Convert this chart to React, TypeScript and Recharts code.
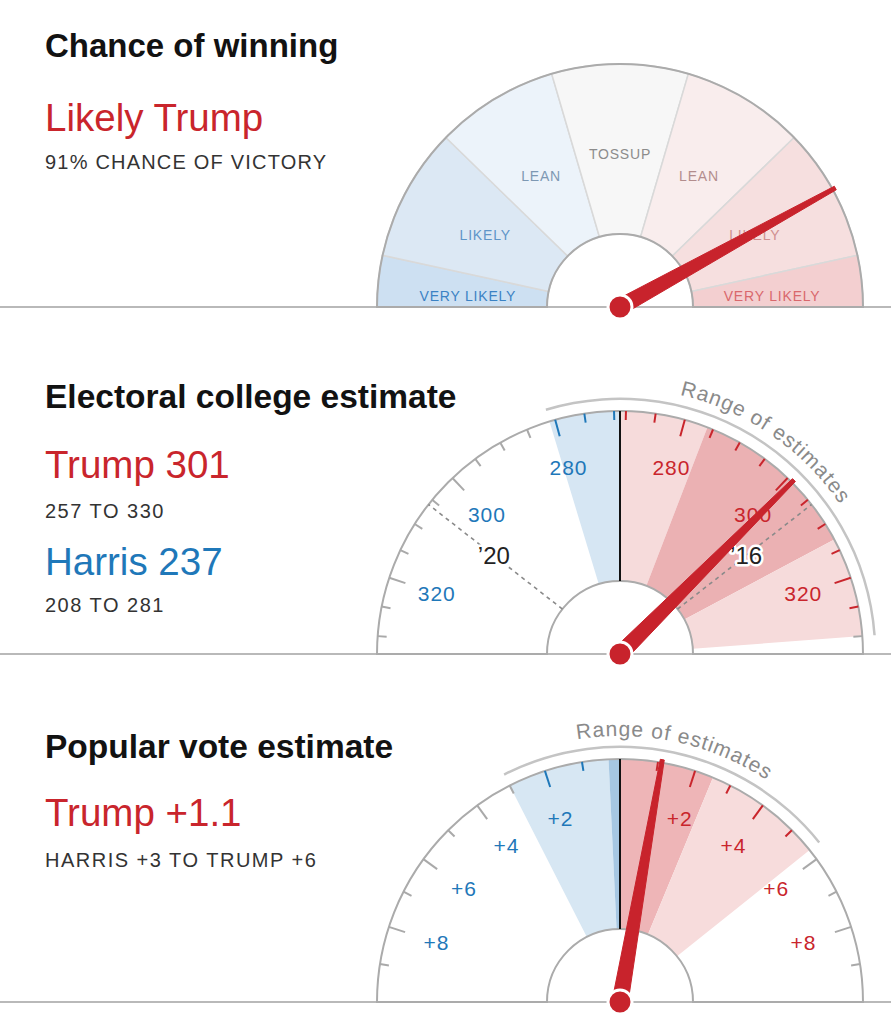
import React from 'react';
import { PieChart, Pie, Cell, RadialBarChart, RadialBar, PolarAngleAxis } from 'recharts';

// ---------------- layout constants ----------------
const PAGE_W = 891;
const PAGE_H = 1024;
const FONT = '"Liberation Sans", Arial, Helvetica, sans-serif';
const RED = '#c9252c';
const BLUE = '#1f78b9';
const NEEDLE_RED = '#c8232c';
const TICK_GRAY = '#a9a9a9';
const ARC_GRAY = '#ababab';
const GAUGE_CX = 620;
const R_OUT = 243;
const R_IN = 73;
const R_RANGE_IN = 254;
const R_RANGE_OUT = 256.5;
const R_RANGE_TEXT = 266;
const R_TICK_LABEL = 193;
const NEEDLE_LEN = 246;
const NO_MARGIN = { top: 0, right: 0, bottom: 0, left: 0 };

// ---------------- data: chance of winning ----------------
const winCY = 307;
const winBandNames = ['VERY LIKELY', 'LIKELY', 'LEAN', 'TOSSUP', 'LEAN', 'LIKELY', 'VERY LIKELY'];
// band edges as Trump win probability (dial is drawn on a log-odds scale)
const winBandEdges = [0.032, 0.05, 0.15, 0.35, 0.65, 0.85, 0.95, 0.968];
const winBandFills = ['#cde0f2', '#dce8f4', '#ecf3fa', '#f7f7f7', '#f9eded', '#f6dfdf', '#f3cfd0'];
const winLabelColors = ['#3b82c4', '#5f95c8', '#7d98b3', '#8c8c8c', '#b38d8d', '#d08f90', '#d9686c'];
const trumpWinProb = 0.91;

// ---------------- data: electoral college ----------------
const evCY = 654;
const evTie = 269;
const evScaleMax = 333;
const evTrumpEstimate = 301;
const evHarrisEstimate = 237;
const evTrumpRange = [257, 330];
const evHarrisRange = [208, 281];
const evTrumpLikelyRange = [284, 313];
const evTickEVs = [270, 275, 280, 285, 290, 295, 300, 305, 310, 315, 320, 325, 330];
const evLabelEVs = [280, 300, 320];
const evPastResults = [
  { key: 'dem2020', label: '\u201920', side: 'dem', ev: 306 },
  { key: 'rep2016', label: '\u201916', side: 'rep', ev: 306 },
];

// ---------------- data: popular vote ----------------
const pvCY = 1002;
const pvScaleMax = 10;
const pvTrumpMargin = 1.1;
const pvRange = [-3, 5.7]; // negative = Harris margin
const pvLikelyRange = [-0.3, 2.5];
const pvTickValues = [1, 2, 3, 4, 5, 6, 7, 8, 9];
const pvLabelValues = [2, 4, 6, 8];

// ---------------- helpers ----------------
const RAD = Math.PI / 180;
const polar = (cx: number, cy: number, r: number, deg: number) => ({
  x: cx + r * Math.cos(deg * RAD),
  y: cy - r * Math.sin(deg * RAD),
});
const logit = (p: number) => Math.log(p / (1 - p));

type Band = { value: number; fill: string };
type Colors = { lightBlue: string; darkBlue: string; lightPink: string; darkPink: string };

function buildBands(min: number, max: number, range: number[], likely: number[], c: Colors): Band[] {
  const edges = Array.from(new Set([min, range[0], likely[0], 0, likely[1], range[1], max]))
    .filter((e) => e >= min && e <= max)
    .sort((a, b) => a - b);
  const out: Band[] = [];
  for (let i = 0; i < edges.length - 1; i++) {
    const a = edges[i];
    const b = edges[i + 1];
    const m = (a + b) / 2;
    let fill = 'none';
    if (m > likely[0] && m < likely[1]) fill = m < 0 ? c.darkBlue : c.darkPink;
    else if (m > range[0] && m < range[1]) fill = m < 0 ? c.lightBlue : c.lightPink;
    out.push({ value: b - a, fill });
  }
  return out;
}

function buildRangeArc(min: number, max: number, range: number[]): Band[] {
  return [
    { value: range[0] - min, fill: 'none' },
    { value: range[1] - range[0], fill: '#c4c4c4' },
    { value: max - range[1], fill: 'none' },
  ];
}

// chance of winning
const winDomain = [logit(winBandEdges[0]), logit(winBandEdges[winBandEdges.length - 1])];
const winBands = winBandNames.map((name, i) => ({
  name,
  value: logit(winBandEdges[i + 1]) - logit(winBandEdges[i]),
  fill: winBandFills[i],
}));
const winDialRow = [{ needle: logit(trumpWinProb) }];

// electoral college (axis position = Trump EV - 269; Harris side negative)
const evMax = evScaleMax - evTie;
const evDomain = [-evMax, evMax];
const evRangePos = [evTrumpRange[0] - evTie, evTrumpRange[1] - evTie];
const evLikelyPos = [evTrumpLikelyRange[0] - evTie, evTrumpLikelyRange[1] - evTie];
const evBands = buildBands(-evMax, evMax, evRangePos, evLikelyPos, {
  lightBlue: '#d6e6f3',
  darkBlue: '#a9c8e3',
  lightPink: '#f6dbdb',
  darkPink: '#ebb1b3',
});
const evRangeArc = buildRangeArc(-evMax, evMax, evRangePos);
const evTickPos = evTickEVs.map((e) => e - evTie);
const evAxisTicks = [0, ...evTickPos.map((v) => -v), ...evTickPos];
const evDialRow = [
  {
    needle: evTrumpEstimate - evTie,
    ...Object.fromEntries(evPastResults.map((r) => [r.key, r.side === 'rep' ? r.ev - evTie : evTie - r.ev])),
  },
];

// popular vote
const pvDomain = [-pvScaleMax, pvScaleMax];
const pvBands = buildBands(-pvScaleMax, pvScaleMax, pvRange, pvLikelyRange, {
  lightBlue: '#d7e7f3',
  darkBlue: '#a6c7e2',
  lightPink: '#f7dcdc',
  darkPink: '#eeb5b7',
});
const pvRangeArc = buildRangeArc(-pvScaleMax, pvScaleMax, pvRange);
const pvAxisTicks = [0, ...pvTickValues.map((v) => -v), ...pvTickValues];
const pvDialRow = [{ needle: pvTrumpMargin }];

// ---------------- renderers ----------------
const renderWinLabel = (p: any) => {
  const i = p.index;
  if (typeof i !== 'number' || !winBandNames[i]) return <g />;
  const mid = (p.startAngle + p.endAngle) / 2;
  const pt = polar(p.cx, p.cy, 153, mid);
  const y = Math.max(pt.y, 0);
  return (
    <text
      x={pt.x}
      y={Math.abs(pt.y - p.cy) < 20 ? p.cy - 11 : y}
      textAnchor="middle"
      dominantBaseline="central"
      fontSize={14}
      letterSpacing={0.8}
      fontFamily={FONT}
      fill={winLabelColors[i]}
    >
      {winBandNames[i]}
    </text>
  );
};

const makeRangeLabel = (id: string) => (p: any) => {
  if (p.index !== 1) return <g />;
  const { cx, cy, startAngle, endAngle } = p;
  const a = polar(cx, cy, R_RANGE_TEXT, startAngle);
  const b = polar(cx, cy, R_RANGE_TEXT, endAngle);
  const large = Math.abs(startAngle - endAngle) > 180 ? 1 : 0;
  const d = `M ${a.x} ${a.y} A ${R_RANGE_TEXT} ${R_RANGE_TEXT} 0 ${large} 1 ${b.x} ${b.y}`;
  return (
    <g>
      <path id={id} d={d} fill="none" stroke="none" />
      <text fontSize={21} fill="#8a8a8a" letterSpacing={1} fontFamily={FONT}>
        <textPath href={`#${id}`} startOffset="50%" textAnchor="middle">
          Range of estimates
        </textPath>
      </text>
    </g>
  );
};

type TickCfg = {
  cx: number;
  cy: number;
  isMajor: (v: number) => boolean;
  label: (v: number) => string;
  inRange: (v: number) => boolean;
};

const makeTick = (cfg: TickCfg) => (props: any) => {
  const v = props?.payload?.value;
  const ang = props?.payload?.coordinate;
  if (typeof v !== 'number' || typeof ang !== 'number') return <g />;
  const cx = typeof props.cx === 'number' ? props.cx : cfg.cx;
  const cy = typeof props.cy === 'number' ? props.cy : cfg.cy;
  if (v === 0) {
    const a = polar(cx, cy, R_IN, ang);
    const b = polar(cx, cy, R_OUT, ang);
    return <line x1={a.x} y1={a.y} x2={b.x} y2={b.y} stroke="#111" strokeWidth={2} />;
  }
  const major = cfg.isMajor(v);
  const len = major ? 17 : 9;
  const color = cfg.inRange(v) ? (v < 0 ? BLUE : RED) : TICK_GRAY;
  const a = polar(cx, cy, R_OUT, ang);
  const b = polar(cx, cy, R_OUT - len, ang);
  const lp = polar(cx, cy, R_TICK_LABEL, ang);
  return (
    <g>
      <line x1={a.x} y1={a.y} x2={b.x} y2={b.y} stroke={color} strokeWidth={2} />
      {major && (
        <text
          x={lp.x}
          y={lp.y}
          textAnchor="middle"
          dominantBaseline="central"
          fontSize={21}
          letterSpacing={1}
          fontFamily={FONT}
          fill={v < 0 ? BLUE : RED}
        >
          {cfg.label(v)}
        </text>
      )}
    </g>
  );
};

const evTick = makeTick({
  cx: GAUGE_CX,
  cy: evCY,
  isMajor: (v) => evLabelEVs.includes(evTie + Math.abs(v)),
  label: (v) => String(evTie + Math.abs(v)),
  inRange: (v) => (v < 0 ? v > evRangePos[0] : v < evRangePos[1]),
});

const pvTick = makeTick({
  cx: GAUGE_CX,
  cy: pvCY,
  isMajor: (v) => pvLabelValues.includes(Math.abs(v)),
  label: (v) => `+${Math.abs(v)}`,
  inRange: (v) => (v < 0 ? v > pvRange[0] : v < pvRange[1]),
});

const NeedleShape = (props: any) => {
  const { cx, cy, endAngle } = props;
  const t = endAngle * RAD;
  const ux = Math.cos(t);
  const uy = -Math.sin(t);
  const nx = -uy;
  const ny = ux;
  const baseW = 8;
  const tipW = 2;
  const pts = [
    [cx + nx * baseW, cy + ny * baseW],
    [cx + ux * NEEDLE_LEN + nx * tipW, cy + uy * NEEDLE_LEN + ny * tipW],
    [cx + ux * NEEDLE_LEN - nx * tipW, cy + uy * NEEDLE_LEN - ny * tipW],
    [cx - nx * baseW, cy - ny * baseW],
  ]
    .map((p) => `${p[0]},${p[1]}`)
    .join(' ');
  return (
    <g>
      <polygon points={pts} fill={NEEDLE_RED} stroke={NEEDLE_RED} strokeWidth={1} strokeLinejoin="round" />
      <circle cx={cx} cy={cy} r={12} fill={NEEDLE_RED} stroke="#fff" strokeWidth={3} />
    </g>
  );
};

const makeRefShape = (label: string) => (props: any) => {
  const { cx, cy, endAngle } = props;
  const a = polar(cx, cy, R_IN, endAngle);
  const b = polar(cx, cy, R_OUT, endAngle);
  const lp = polar(cx, cy, 160, endAngle);
  return (
    <g>
      <line x1={a.x} y1={a.y} x2={b.x} y2={b.y} stroke="#8a8a8a" strokeWidth={1.6} strokeDasharray="4 4" />
      <text
        x={lp.x}
        y={lp.y}
        textAnchor="middle"
        dominantBaseline="central"
        fontSize={24}
        fontFamily={FONT}
        fill="#222"
        stroke="#fff"
        strokeWidth={5}
        strokeLinejoin="round"
        paintOrder="stroke"
      >
        {label}
      </text>
    </g>
  );
};

// ---------------- text block ----------------
const TextLine = ({
  x = 45,
  baseline,
  size,
  bold = false,
  color = '#333',
  ls = 0,
  children,
}: {
  x?: number;
  baseline: number;
  size: number;
  bold?: boolean;
  color?: string;
  ls?: number;
  children: React.ReactNode;
}) => (
  <div
    style={{
      position: 'absolute',
      left: x,
      top: baseline - 0.8465 * size,
      fontSize: size,
      lineHeight: `${size}px`,
      fontWeight: bold ? 700 : 400,
      color,
      letterSpacing: ls,
      whiteSpace: 'nowrap',
      fontFamily: FONT,
    }}
  >
    {children}
  </div>
);

const Baseline = ({ y }: { y: number }) => (
  <div style={{ position: 'absolute', left: 0, top: y - 1, width: PAGE_W, height: 2, background: '#b9b9b9' }} />
);

const layer: React.CSSProperties = { position: 'absolute', left: 0, top: 0 };

export default function App() {
  return (
    <div
      style={{
        position: 'absolute',
        left: 0,
        top: 0,
        width: PAGE_W,
        height: PAGE_H,
        background: '#fff',
        overflow: 'hidden',
        fontFamily: FONT,
      }}
    >
      <TextLine baseline={57} size={33} bold color="#121212">Chance of winning</TextLine>
      <TextLine baseline={132} size={38.5} color={RED}>Likely Trump</TextLine>
      <TextLine baseline={169} size={20} ls={1.2}>{`${Math.round(trumpWinProb * 100)}% CHANCE OF VICTORY`}</TextLine>

      <TextLine baseline={408} size={33.5} bold color="#121212">Electoral college estimate</TextLine>
      <TextLine baseline={479} size={38.5} color={RED}>{`Trump ${evTrumpEstimate}`}</TextLine>
      <TextLine baseline={518} size={20} ls={1.5}>{`${evTrumpRange[0]} TO ${evTrumpRange[1]}`}</TextLine>
      <TextLine baseline={576} size={38.5} color={BLUE}>{`Harris ${evHarrisEstimate}`}</TextLine>
      <TextLine baseline={612} size={20} ls={1.5}>{`${evHarrisRange[0]} TO ${evHarrisRange[1]}`}</TextLine>

      <TextLine baseline={758} size={33.5} bold color="#121212">Popular vote estimate</TextLine>
      <TextLine baseline={827} size={38.5} color={RED}>{`Trump +${pvTrumpMargin}`}</TextLine>
      <TextLine baseline={867} size={20} ls={1.5}>{`HARRIS +${-pvRange[0]} TO TRUMP +${Math.round(pvRange[1])}`}</TextLine>

      <Baseline y={winCY} />
      <Baseline y={evCY} />
      <Baseline y={pvCY} />

      {/* bands, outlines and range arcs */}
      <div style={layer}>
        <PieChart width={PAGE_W} height={PAGE_H} margin={NO_MARGIN}>
          {/* chance of winning */}
          <Pie
            data={winBands}
            dataKey="value"
            cx={GAUGE_CX}
            cy={winCY}
            innerRadius={R_IN}
            outerRadius={R_OUT}
            startAngle={180}
            endAngle={0}
            stroke="#d9d9d9"
            strokeWidth={1.5}
            isAnimationActive={false}
            label={renderWinLabel}
            labelLine={false}
          >
            {winBands.map((b, i) => (
              <Cell key={`w${i}`} fill={b.fill} />
            ))}
          </Pie>
          <Pie
            data={[{ value: 1 }]}
            dataKey="value"
            cx={GAUGE_CX}
            cy={winCY}
            innerRadius={R_IN}
            outerRadius={R_OUT}
            startAngle={180}
            endAngle={0}
            fill="none"
            stroke={ARC_GRAY}
            strokeWidth={2}
            isAnimationActive={false}
          />

          {/* electoral college */}
          <Pie
            data={evBands}
            dataKey="value"
            cx={GAUGE_CX}
            cy={evCY}
            innerRadius={R_IN}
            outerRadius={R_OUT}
            startAngle={180}
            endAngle={0}
            stroke="none"
            isAnimationActive={false}
          >
            {evBands.map((b, i) => (
              <Cell key={`e${i}`} fill={b.fill} />
            ))}
          </Pie>
          <Pie
            data={[{ value: 1 }]}
            dataKey="value"
            cx={GAUGE_CX}
            cy={evCY}
            innerRadius={R_IN}
            outerRadius={R_OUT}
            startAngle={180}
            endAngle={0}
            fill="none"
            stroke={ARC_GRAY}
            strokeWidth={2}
            isAnimationActive={false}
          />
          <Pie
            data={evRangeArc}
            dataKey="value"
            cx={GAUGE_CX}
            cy={evCY}
            innerRadius={R_RANGE_IN}
            outerRadius={R_RANGE_OUT}
            startAngle={180}
            endAngle={0}
            stroke="none"
            isAnimationActive={false}
            label={makeRangeLabel('range-ev')}
            labelLine={false}
          >
            {evRangeArc.map((b, i) => (
              <Cell key={`er${i}`} fill={b.fill} />
            ))}
          </Pie>

          {/* popular vote */}
          <Pie
            data={pvBands}
            dataKey="value"
            cx={GAUGE_CX}
            cy={pvCY}
            innerRadius={R_IN}
            outerRadius={R_OUT}
            startAngle={180}
            endAngle={0}
            stroke="none"
            isAnimationActive={false}
          >
            {pvBands.map((b, i) => (
              <Cell key={`p${i}`} fill={b.fill} />
            ))}
          </Pie>
          <Pie
            data={[{ value: 1 }]}
            dataKey="value"
            cx={GAUGE_CX}
            cy={pvCY}
            innerRadius={R_IN}
            outerRadius={R_OUT}
            startAngle={180}
            endAngle={0}
            fill="none"
            stroke={ARC_GRAY}
            strokeWidth={2}
            isAnimationActive={false}
          />
          <Pie
            data={pvRangeArc}
            dataKey="value"
            cx={GAUGE_CX}
            cy={pvCY}
            innerRadius={R_RANGE_IN}
            outerRadius={R_RANGE_OUT}
            startAngle={180}
            endAngle={0}
            stroke="none"
            isAnimationActive={false}
            label={makeRangeLabel('range-pv')}
            labelLine={false}
          >
            {pvRangeArc.map((b, i) => (
              <Cell key={`pr${i}`} fill={b.fill} />
            ))}
          </Pie>
        </PieChart>
      </div>

      {/* chance of winning needle */}
      <div style={layer}>
        <RadialBarChart
          width={PAGE_W}
          height={PAGE_H}
          data={winDialRow}
          cx={GAUGE_CX}
          cy={winCY}
          innerRadius={R_IN}
          outerRadius={R_OUT}
          startAngle={180}
          endAngle={0}
          margin={NO_MARGIN}
        >
          <PolarAngleAxis type="number" domain={winDomain} tick={false} tickLine={false} axisLine={false} />
          <RadialBar dataKey="needle" shape={NeedleShape} isAnimationActive={false} />
        </RadialBarChart>
      </div>

      {/* electoral college axis + needle */}
      <div style={layer}>
        <RadialBarChart
          width={PAGE_W}
          height={PAGE_H}
          data={evDialRow}
          cx={GAUGE_CX}
          cy={evCY}
          innerRadius={R_IN}
          outerRadius={R_OUT}
          startAngle={180}
          endAngle={0}
          margin={NO_MARGIN}
        >
          <PolarAngleAxis
            type="number"
            domain={evDomain}
            ticks={evAxisTicks}
            tick={evTick}
            tickLine={false}
            axisLine={false}
          />
          {evPastResults.map((r) => (
            <RadialBar key={r.key} dataKey={r.key} shape={makeRefShape(r.label)} isAnimationActive={false} />
          ))}
          <RadialBar dataKey="needle" shape={NeedleShape} isAnimationActive={false} />
        </RadialBarChart>
      </div>

      {/* popular vote axis + needle */}
      <div style={layer}>
        <RadialBarChart
          width={PAGE_W}
          height={PAGE_H}
          data={pvDialRow}
          cx={GAUGE_CX}
          cy={pvCY}
          innerRadius={R_IN}
          outerRadius={R_OUT}
          startAngle={180}
          endAngle={0}
          margin={NO_MARGIN}
        >
          <PolarAngleAxis
            type="number"
            domain={pvDomain}
            ticks={pvAxisTicks}
            tick={pvTick}
            tickLine={false}
            axisLine={false}
          />
          <RadialBar dataKey="needle" shape={NeedleShape} isAnimationActive={false} />
        </RadialBarChart>
      </div>
    </div>
  );
}
